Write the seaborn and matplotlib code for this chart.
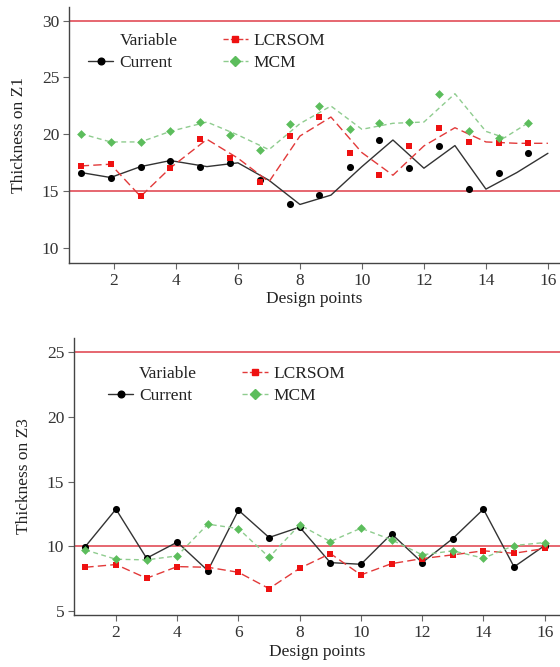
import numpy as np
import pandas as pd
import matplotlib
matplotlib.use("Agg")
import matplotlib.pyplot as plt
from matplotlib.lines import Line2D
import seaborn as sns

# Design points and values
points = list(range(1, 17))

# Z1 (upper panel): markers sit slightly left of the line vertices in the source
z1_marker_x = [0.93, 1.89, 2.86, 3.82, 4.78, 5.75, 6.71, 7.67, 8.63, 9.60,
               10.56, 11.52, 12.49, 13.45, 14.41, 15.37]
z1_line_x = [0.93, 1.89, 2.86, 3.82, 5, 6, 7, 8, 9, 10, 11, 12, 13, 14, 15, 16]
z1_mcm_line_x = [0.93, 1.89, 2.86, 3.82, 5, 6, 7, 8, 9, 10, 11, 12, 13, 14, 14.6, 15.37]
z1_current = [16.64, 16.20, 17.16, 17.69, 17.16, 17.49, 15.96, 13.83, 14.65, 17.16,
              19.50, 17.02, 19.01, 15.18, 16.64, 18.33]
z1_lcrsom = [17.22, 17.37, 14.53, 17.05, 19.56, 17.90, 15.82, 19.85, 21.52, 18.39,
             16.40, 18.98, 20.58, 19.33, 19.21, 19.21]
z1_mcm = [20.06, 19.33, 19.33, 20.26, 21.08, 19.94, 18.65, 20.94, 22.49, 20.44,
          20.97, 21.08, 23.57, 20.26, 19.70, 21.02]
z1_limits = [15, 30]

# Z3 (lower panel)
z3_current = [9.98, 12.87, 9.08, 10.32, 8.12, 12.79, 10.68, 11.48, 8.74, 8.61,
              10.96, 8.74, 10.60, 12.87, 8.41, 10.06]
z3_lcrsom = [8.38, 8.59, 7.53, 8.43, 8.38, 7.99, 6.73, 8.30, 9.44, 7.79,
             8.66, 9.05, 9.34, 9.65, 9.46, 9.83]
z3_mcm = [9.72, 9.00, 8.95, 9.26, 11.71, 11.37, 9.15, 11.66, 10.37, 11.40,
          10.50, 9.34, 9.65, 9.08, 10.06, 10.29]
z3_limits = [10, 25]

series = ["Current", "LCRSOM", "MCM"]
line_colors = {"Current": "#333333", "LCRSOM": "#e23a3a", "MCM": "#8fcc8f"}
marker_colors = {"Current": "#000000", "LCRSOM": "#ee1111", "MCM": "#5cbd5c"}
dash_styles = {"Current": "", "LCRSOM": (6, 3), "MCM": (3.5, 2.5)}
marker_styles = {"Current": "o", "LCRSOM": "s", "MCM": "D"}
marker_sizes = {"Current": 26, "LCRSOM": 24, "MCM": 20}
limit_color = "#e45a64"
text_color = "#222222"

sns.set_theme(style="ticks")
plt.rcParams["font.family"] = ["Liberation Serif", "DejaVu Serif"]
plt.rcParams["axes.edgecolor"] = "#444444"
plt.rcParams["xtick.color"] = "#666666"
plt.rcParams["ytick.color"] = "#666666"
plt.rcParams["xtick.labelcolor"] = "#333333"
plt.rcParams["ytick.labelcolor"] = "#333333"


def long_form(x_lists, y_lists):
    rows = []
    for name, xs, ys in zip(series, x_lists, y_lists):
        for x, y in zip(xs, ys):
            rows.append({"Design points": x, "value": y, "Variable": name})
    return pd.DataFrame(rows)


def draw_panel(ax, line_df, marker_df, limits, ylabel, ylim, yticks, xlim, legend_xy):
    for lim in limits:
        ax.axhline(lim, color=limit_color, lw=1.3, zorder=1)

    sns.lineplot(data=line_df, x="Design points", y="value", hue="Variable",
                 style="Variable", palette=line_colors, dashes=dash_styles,
                 sort=False, estimator=None, lw=1.0, legend=False, ax=ax, zorder=2)
    for name in series:
        sub = marker_df[marker_df["Variable"] == name]
        sns.scatterplot(data=sub, x="Design points", y="value",
                        color=marker_colors[name], marker=marker_styles[name],
                        s=marker_sizes[name], linewidth=0, legend=False, ax=ax, zorder=3)

    ax.set_xlim(*xlim)
    ax.set_ylim(*ylim)
    ax.set_xticks([2, 4, 6, 8, 10, 12, 14, 16])
    ax.set_yticks(yticks)
    ax.tick_params(labelsize=12.5, length=4, width=0.8, pad=3)
    ax.set_xlabel("Design points", fontsize=12.5, color=text_color, labelpad=2)
    ax.set_ylabel(ylabel, fontsize=12.5, color=text_color, labelpad=11)
    sns.despine(ax=ax)
    ax.spines["left"].set_linewidth(1.0)
    ax.spines["bottom"].set_linewidth(1.0)

    handles = [Line2D([], [], color="none")]
    for name in series:
        handles.append(Line2D([], [], color=line_colors[name], lw=1.0,
                              ls="-" if name == "Current" else "--",
                              marker=marker_styles[name], markersize=4.8,
                              markerfacecolor=marker_colors[name],
                              markeredgecolor=marker_colors[name]))
    labels = ["Variable"] + series
    leg = ax.legend(handles, labels, ncol=2, loc="upper left",
                    bbox_to_anchor=legend_xy, frameon=False, fontsize=12.5,
                    handlelength=1.45, handletextpad=0.35, columnspacing=2.6,
                    labelspacing=0.35, borderaxespad=0, borderpad=0)
    for t in leg.get_texts():
        t.set_color(text_color)


fig = plt.figure(figsize=(5.6, 6.67), dpi=100)
ax1 = fig.add_axes([69 / 560, 1 - 263 / 667, 491 / 560, 256 / 667])
ax2 = fig.add_axes([74 / 560, 1 - 615 / 667, 486 / 560, 277 / 667])

z1_lines = long_form([z1_line_x, z1_line_x, z1_mcm_line_x], [z1_current, z1_lcrsom, z1_mcm])
z1_marks = long_form([z1_marker_x] * 3, [z1_current, z1_lcrsom, z1_mcm])
draw_panel(ax1, z1_lines, z1_marks, z1_limits, "Thickness on Z1",
           (8.68, 31.2), [10, 15, 20, 25, 30], (0.55, 16.39), (0.039, 0.9))

z3_lines = long_form([points] * 3, [z3_current, z3_lcrsom, z3_mcm])
draw_panel(ax2, z3_lines, z3_lines, z3_limits, "Thickness on Z3",
           (4.69, 26.1), [5, 10, 15, 20, 25], (0.63, 16.5), (0.07, 0.9))

fig.savefig("out.png", dpi=100, facecolor="white")
